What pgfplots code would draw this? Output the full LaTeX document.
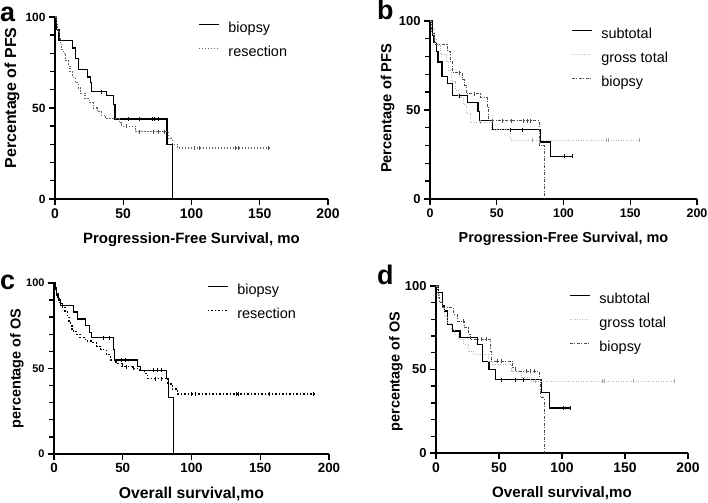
\documentclass[border=0pt]{standalone}
\usepackage{pgfplots}
\pgfplotsset{compat=1.18}
\usepackage{fontspec}
\setmainfont{Liberation Sans}
\pgfplotsset{km/.style={
  scale only axis, clip=false,
  xmin=0,xmax=200,ymin=0,ymax=100,
  axis x line*=bottom, axis y line*=left,
  axis line style={line width=2bp, black},
  xtick={0,50,100,150,200}, ytick={0,50,100},
  tick align=outside, major tick length=6bp,
  xtick style={black, line width=1.4bp}, ytick style={black, line width=1.4bp},
  /pgf/number format/assume math mode=true,
  xticklabel style={font=\bfseries\fontsize{13}{13}\selectfont},
  yticklabel style={font=\bfseries\fontsize{12.5}{12.5}\selectfont},
  legend style={draw=none, fill=none, anchor=north west, font=\fontsize{14.5}{14.5}\selectfont,
    row sep=10bp, inner sep=0pt, column sep=9bp,
    nodes={inner sep=0pt, text height=11bp, text depth=3bp}},
  legend cell align=left,
  legend image code/.code={\draw[#1] (0bp,4bp) -- (20bp,4bp);},
  cens/.style={only marks, mark=|, mark size=2bp, forget plot, mark options={line width=0.8bp}},
}}
\tikzset{
  solidl/.style={black, line width=1.2bp},
  grossl/.style={gray!55, line width=0.9bp, dash pattern=on 1bp off 1.5bp},
  biol/.style={black!70, line width=1bp, dash pattern=on 3bp off 1.5bp on 1bp off 1.5bp},
  resal/.style={black!60, line width=1.1bp, dash pattern=on 1.5bp off 1.5bp},
  rescl/.style={black, line width=1.3bp, dash pattern=on 1.5bp off 2bp},
  tk/.style={black, line width=1.4bp},
}
\begin{document}
\begin{tikzpicture}
\path[use as bounding box] (0,0) rectangle (708bp,503bp);
% ---------- a ----------
\begin{axis}[km, at={(55bp,304bp)}, anchor=south west, width=273bp, height=182bp,
  xlabel={Progression-Free Survival, mo}, ylabel={Percentage of PFS},
  every axis x label/.style={at={([yshift=-41bp]axis description cs:0.5,0)}, anchor=center, font=\bfseries\fontsize{15}{15}\selectfont},
  every axis y label/.style={at={([xshift=-43bp]axis description cs:0,0.555)}, anchor=center, rotate=90, font=\bfseries\fontsize{16}{16}\selectfont},
  xticklabel style={font=\bfseries\fontsize{14}{14}\selectfont},
  yticklabel style={font=\bfseries\fontsize{12}{12}\selectfont},
  legend style={at={(0.524,0.978)}}]
\addplot[solidl, const plot] coordinates {(0,100)(1,93)(3,87)(13,83)(15,77)(17,71)(24,67)(26,64)(27,59)(38,57)(43,52)(44,44)(82,30)(86,30)(86,0)};
\addlegendentry{biopsy}
\addplot[resal, const plot] coordinates {(0,100)(1,96)(2,92)(3,88)(4,85)(5,82)(6,80)(8,76)(10,73)(11,70)(13,67)(15,64)(17,61)(19,58)(22,55)(25,53)(28,50)(31,48)(34,46)(37,44)(47,42)(49,40)(59,37)(83,33)(86,30)(90,28)(157,28)};
\addlegendentry{resection}
\addplot[cens, black] coordinates {(34,59)(54,44)(62,44)(71,44)(73,44)(76,44)};
\addplot[cens, black!70] coordinates {(52,40)(62,37)(72,37)(76,37)(80,37)(102,28)(106,28)(132,28)(134,28)(156,28)};
\draw[tk] (axis cs:0,0) -- (axis cs:0,-3.3);
\draw[tk] (axis cs:50,0) -- (axis cs:50,-3.3);
\draw[tk] (axis cs:100,0) -- (axis cs:100,-3.3);
\draw[tk] (axis cs:150,0) -- (axis cs:150,-3.3);
\draw[tk] (axis cs:200,0) -- (axis cs:200,-3.3);
\draw[tk] (axis cs:0,0) -- (axis cs:-4.4,0);
\draw[tk] (axis cs:0,50) -- (axis cs:-4.4,50);
\draw[tk] (axis cs:0,100) -- (axis cs:-4.4,100);
\draw[tk] (axis cs:0,10) -- (axis cs:-3.3,10);
\draw[tk] (axis cs:0,20) -- (axis cs:-3.3,20);
\draw[tk] (axis cs:0,30) -- (axis cs:-3.3,30);
\draw[tk] (axis cs:0,40) -- (axis cs:-3.3,40);
\draw[tk] (axis cs:0,60) -- (axis cs:-3.3,60);
\draw[tk] (axis cs:0,70) -- (axis cs:-3.3,70);
\draw[tk] (axis cs:0,80) -- (axis cs:-3.3,80);
\draw[tk] (axis cs:0,90) -- (axis cs:-3.3,90);
\end{axis}
\node[anchor=base west, font=\bfseries\fontsize{27}{27}\selectfont, inner sep=0pt] at (0bp,481bp) {a};
% ---------- b ----------
\begin{axis}[km, at={(430bp,304bp)}, anchor=south west, width=267bp, height=178bp,
  xlabel={Progression-Free Survival, mo}, ylabel={Percentage of PFS},
  every axis x label/.style={at={([yshift=-40bp]axis description cs:0.5,0)}, anchor=center, font=\bfseries\fontsize{14.5}{14.5}\selectfont},
  every axis y label/.style={at={([xshift=-42.5bp]axis description cs:0,0.51)}, anchor=center, rotate=90, font=\bfseries\fontsize{14.7}{14.7}\selectfont},
  xticklabel style={font=\bfseries\fontsize{12.5}{12.5}\selectfont},
  yticklabel style={font=\bfseries\fontsize{13}{13}\selectfont},
  legend style={at={(0.528,0.966)}}]
\addplot[solidl, const plot] coordinates {(0,100)(2,92)(3,88)(5,83)(6,77)(9,69)(13,65)(17,58)(28,54)(36,49)(37,44)(47,39)(83,32)(90,24)(107,24)};
\addlegendentry{subtotal}
\addplot[grossl, const plot] coordinates {(0,100)(1,96)(3,90)(5,86)(8,81)(12,77)(14,72)(16,66)(19,61)(21,57)(25,53)(27,48)(30,43)(46,39)(60,33)(157,33)};
\addlegendentry{gross total}
\addplot[biol, const plot] coordinates {(0,100)(1,93)(3,87)(13,83)(15,77)(17,71)(24,67)(26,64)(27,59)(38,57)(43,52)(44,44)(82,30)(86,30)(86,0)};
\addlegendentry{biopsy}
\addplot[cens, black] coordinates {(22,58)(60,39)(69,39)(101,24)(107,24)};
\addplot[cens, gray!70] coordinates {(38,43)(77,33)(82,33)(132,33)(134,33)(157,33)};
\addplot[cens, black!70] coordinates {(22,71)(33,59)(47,44)(54,44)(61,44)(70,44)(73,44)(75,44)};
\draw[tk] (axis cs:0,0) -- (axis cs:0,-3.4);
\draw[tk] (axis cs:50,0) -- (axis cs:50,-3.4);
\draw[tk] (axis cs:100,0) -- (axis cs:100,-3.4);
\draw[tk] (axis cs:150,0) -- (axis cs:150,-3.4);
\draw[tk] (axis cs:200,0) -- (axis cs:200,-3.4);
\draw[tk] (axis cs:0,0) -- (axis cs:-4.5,0);
\draw[tk] (axis cs:0,50) -- (axis cs:-4.5,50);
\draw[tk] (axis cs:0,100) -- (axis cs:-4.5,100);
\draw[tk] (axis cs:0,10) -- (axis cs:-3.4,10);
\draw[tk] (axis cs:0,20) -- (axis cs:-3.4,20);
\draw[tk] (axis cs:0,30) -- (axis cs:-3.4,30);
\draw[tk] (axis cs:0,40) -- (axis cs:-3.4,40);
\draw[tk] (axis cs:0,60) -- (axis cs:-3.4,60);
\draw[tk] (axis cs:0,70) -- (axis cs:-3.4,70);
\draw[tk] (axis cs:0,80) -- (axis cs:-3.4,80);
\draw[tk] (axis cs:0,90) -- (axis cs:-3.4,90);
\end{axis}
\node[anchor=base west, font=\bfseries\fontsize{27}{27}\selectfont, inner sep=0pt] at (377bp,483bp) {b};
% ---------- c ----------
\begin{axis}[km, at={(54bp,49bp)}, anchor=south west, width=275bp, height=171bp,
  xlabel={Overall survival,mo}, ylabel={percentage of OS},
  every axis x label/.style={at={([yshift=-40bp]axis description cs:0.5,0)}, anchor=center, font=\bfseries\fontsize{15.8}{15.8}\selectfont},
  every axis y label/.style={at={([xshift=-37bp]axis description cs:0,0.5)}, anchor=center, rotate=90, font=\bfseries\fontsize{14.5}{14.5}\selectfont},
  xticklabel style={font=\bfseries\fontsize{13.4}{13.4}\selectfont},
  yticklabel style={font=\bfseries\fontsize{11}{11}\selectfont},
  legend style={at={(0.556,1.0)}}]
\addplot[solidl, const plot] coordinates {(0,100)(1,96)(2,93)(3,90)(5,87)(14,83)(17,79)(23,75)(26,71)(27,68)(43,61)(44,55)(61,51)(63,49)(82,44)(83,33)(87,33)(87,0)};
\addlegendentry{biopsy}
\addplot[rescl, const plot] coordinates {(0,100)(1,97)(2,94)(3,91)(4,88)(6,86)(8,83)(10,80)(11,77)(12,75)(13,72)(16,70)(19,68)(23,66)(27,65)(31,63)(34,61)(38,58)(41,55)(45,53)(49,51)(57,50)(62,49)(66,47)(68,44)(80,44)(83,41)(86,38)(90,35)(189,35)};
\addlegendentry{resection}
\addplot[cens, black] coordinates {(36,68)(40,68)(49,55)(52,55)(72,49)(75,49)(78,49)};
\addplot[cens, black] coordinates {(50,52)(53,51)(58,50)(74,44)(78,44)(100,35)(103,35)(133,35)(134,35)(157,35)(189,35)};
\draw[tk] (axis cs:0,0) -- (axis cs:0,-3.5);
\draw[tk] (axis cs:50,0) -- (axis cs:50,-3.5);
\draw[tk] (axis cs:100,0) -- (axis cs:100,-3.5);
\draw[tk] (axis cs:150,0) -- (axis cs:150,-3.5);
\draw[tk] (axis cs:200,0) -- (axis cs:200,-3.5);
\draw[tk] (axis cs:0,0) -- (axis cs:-4.4,0);
\draw[tk] (axis cs:0,50) -- (axis cs:-4.4,50);
\draw[tk] (axis cs:0,100) -- (axis cs:-4.4,100);
\draw[tk] (axis cs:0,10) -- (axis cs:-3.3,10);
\draw[tk] (axis cs:0,20) -- (axis cs:-3.3,20);
\draw[tk] (axis cs:0,30) -- (axis cs:-3.3,30);
\draw[tk] (axis cs:0,40) -- (axis cs:-3.3,40);
\draw[tk] (axis cs:0,60) -- (axis cs:-3.3,60);
\draw[tk] (axis cs:0,70) -- (axis cs:-3.3,70);
\draw[tk] (axis cs:0,80) -- (axis cs:-3.3,80);
\draw[tk] (axis cs:0,90) -- (axis cs:-3.3,90);
\end{axis}
\node[anchor=base west, font=\bfseries\fontsize{27}{27}\selectfont, inner sep=0pt] at (0bp,213bp) {c};
% ---------- d ----------
\begin{axis}[km, at={(436bp,50bp)}, anchor=south west, width=252bp, height=167bp,
  xlabel={Overall survival,mo}, ylabel={percentage of OS},
  every axis x label/.style={at={([yshift=-40bp]axis description cs:0.5,0)}, anchor=center, font=\bfseries\fontsize{15.2}{15.2}\selectfont},
  every axis y label/.style={at={([xshift=-40bp]axis description cs:0,0.487)}, anchor=center, rotate=90, font=\bfseries\fontsize{14.5}{14.5}\selectfont},
  xticklabel style={font=\bfseries\fontsize{14}{14}\selectfont},
  yticklabel style={font=\bfseries\fontsize{13}{13}\selectfont},
  legend style={at={(0.528,0.964)}}]
\addplot[solidl, const plot] coordinates {(0,100)(2,96)(5,88)(7,85)(9,77)(13,73)(19,69)(33,65)(37,55)(42,50)(47,44)(84,36)(90,27)(107,27)};
\addlegendentry{subtotal}
\addplot[grossl, const plot] coordinates {(0,100)(2,95)(3,91)(5,87)(7,82)(9,78)(12,74)(15,71)(18,68)(22,65)(26,61)(30,59)(42,55)(45,53)(60,49)(68,45)(75,43)(189,43)};
\addlegendentry{gross total}
\addplot[biol, const plot] coordinates {(0,100)(1,96)(2,93)(3,90)(5,87)(14,83)(17,79)(23,75)(26,71)(27,68)(43,61)(44,55)(61,51)(63,49)(82,44)(83,33)(86,33)(86,0)};
\addlegendentry{biopsy}
\addplot[cens, black] coordinates {(52,44)(63,44)(69,44)(101,27)(107,27)};
\addplot[cens, gray!70] coordinates {(79,43)(132,43)(134,43)(157,43)(189,43)};
\addplot[cens, black!70] coordinates {(22,79)(36,68)(40,68)(49,55)(52,55)(72,49)(75,49)(78,49)};
\draw[tk] (axis cs:0,0) -- (axis cs:0,-3.6);
\draw[tk] (axis cs:50,0) -- (axis cs:50,-3.6);
\draw[tk] (axis cs:100,0) -- (axis cs:100,-3.6);
\draw[tk] (axis cs:150,0) -- (axis cs:150,-3.6);
\draw[tk] (axis cs:200,0) -- (axis cs:200,-3.6);
\draw[tk] (axis cs:0,0) -- (axis cs:-4.8,0);
\draw[tk] (axis cs:0,50) -- (axis cs:-4.8,50);
\draw[tk] (axis cs:0,100) -- (axis cs:-4.8,100);
\draw[tk] (axis cs:0,10) -- (axis cs:-3.6,10);
\draw[tk] (axis cs:0,20) -- (axis cs:-3.6,20);
\draw[tk] (axis cs:0,30) -- (axis cs:-3.6,30);
\draw[tk] (axis cs:0,40) -- (axis cs:-3.6,40);
\draw[tk] (axis cs:0,60) -- (axis cs:-3.6,60);
\draw[tk] (axis cs:0,70) -- (axis cs:-3.6,70);
\draw[tk] (axis cs:0,80) -- (axis cs:-3.6,80);
\draw[tk] (axis cs:0,90) -- (axis cs:-3.6,90);
\end{axis}
\node[anchor=base west, font=\bfseries\fontsize{27}{27}\selectfont, inner sep=0pt] at (377bp,218bp) {d};
\end{tikzpicture}
\end{document}
